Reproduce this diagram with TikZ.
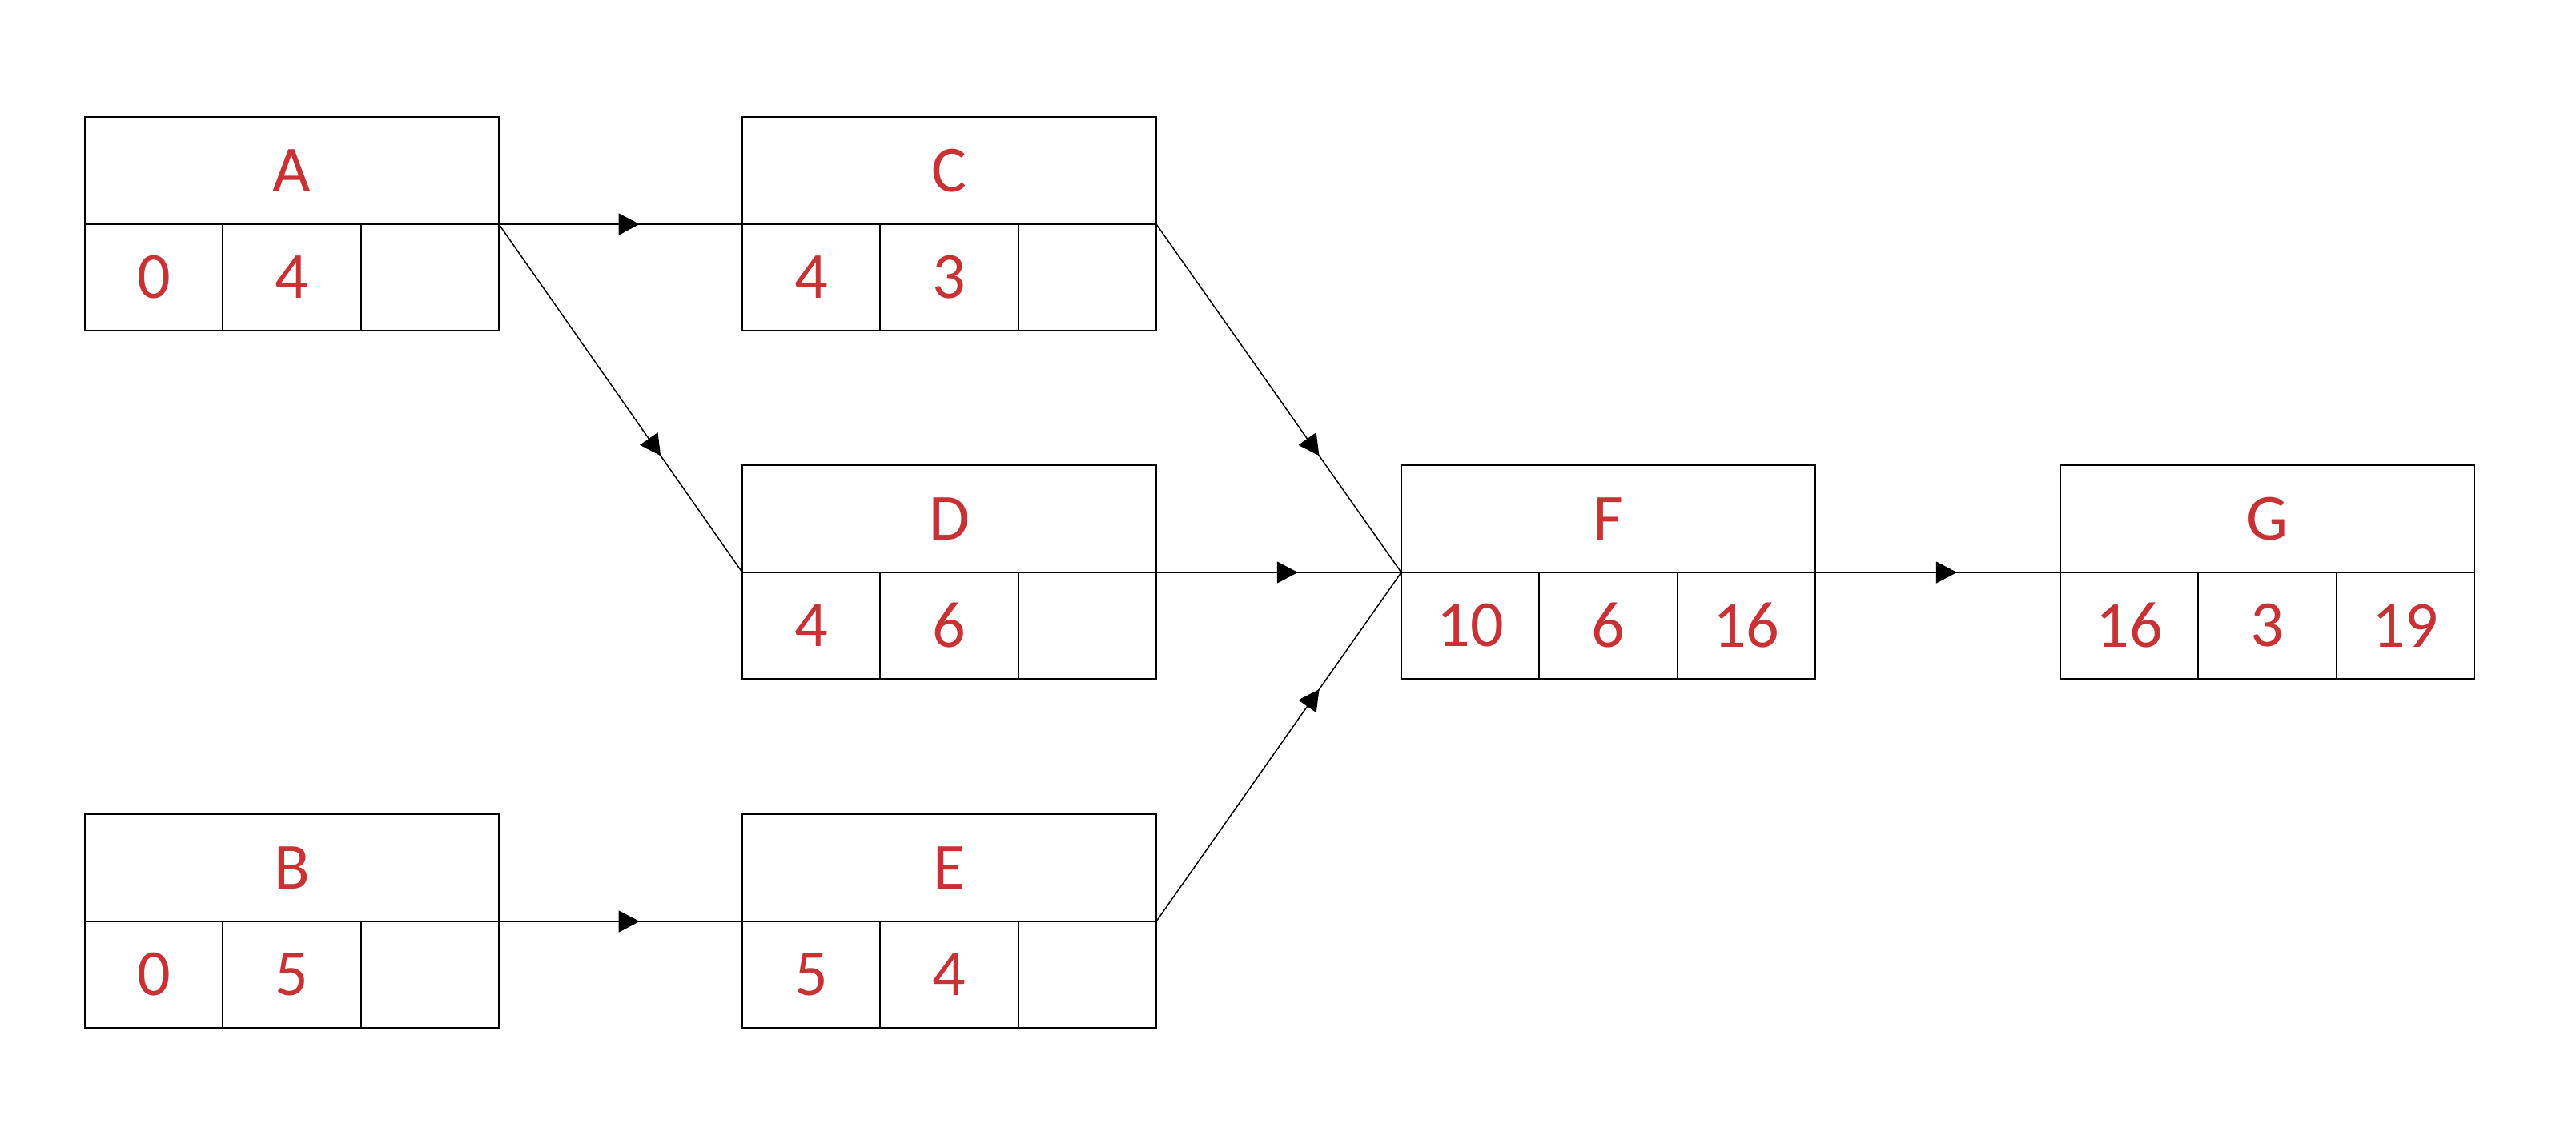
\documentclass[tikz,border=0pt]{standalone}
\usepackage{fontspec}
\setmainfont{Carlito}
\usetikzlibrary{positioning,arrows.meta,decorations.markings}

\definecolor{labelred}{RGB}{200,50,52}

\tikzset{
  head/.style={draw, line width=0.57pt, outer sep=0pt, inner sep=0pt,
    minimum width=5.17cm, minimum height=1.34cm, text=labelred,
    font=\fontsize{23.4}{28}\selectfont},
  cell/.style={draw, line width=0.57pt, outer sep=0pt, inner sep=0pt,
    minimum width=5.17cm/3, minimum height=1.33cm, text=labelred,
    font=\fontsize{23.4}{28}\selectfont},
  link/.style={line width=0.43pt, postaction={decorate},
    decoration={markings, mark=at position #1 with
      {\arrow{Triangle[length=0.26cm, width=0.27cm]}}}},
  link/.default=0.578
}

\begin{document}
\begin{tikzpicture}

  \useasboundingbox (0,0) rectangle (32.17,-14.34);

  \node (A) [head] at (3.645,-2.13) {A};
  \node (C) [head, right=3.04cm of A] {C};
  \node (D) [head, below=3.01cm of C] {D};
  \node (B) [head, below=7.37cm of A] {B};
  \node (E) [head, right=3.04cm of B] {E};
  \node (F) [head, right=3.06cm of D] {F};
  \node (G) [head, right=3.06cm of F] {G};

  \node (A1) [cell, below right=0pt and 0pt of A.south west] {0};
  \node (A2) [cell, right=0pt of A1] {4};
  \node (A3) [cell, right=0pt of A2] {};
  \node (B1) [cell, below right=0pt and 0pt of B.south west] {0};
  \node (B2) [cell, right=0pt of B1] {5};
  \node (B3) [cell, right=0pt of B2] {};
  \node (C1) [cell, below right=0pt and 0pt of C.south west] {4};
  \node (C2) [cell, right=0pt of C1] {3};
  \node (C3) [cell, right=0pt of C2] {};
  \node (D1) [cell, below right=0pt and 0pt of D.south west] {4};
  \node (D2) [cell, right=0pt of D1] {6};
  \node (D3) [cell, right=0pt of D2] {};
  \node (E1) [cell, below right=0pt and 0pt of E.south west] {5};
  \node (E2) [cell, right=0pt of E1] {4};
  \node (E3) [cell, right=0pt of E2] {};
  \node (F1) [cell, below right=0pt and 0pt of F.south west] {10};
  \node (F2) [cell, right=0pt of F1] {6};
  \node (F3) [cell, right=0pt of F2] {16};
  \node (G1) [cell, below right=0pt and 0pt of G.south west] {16};
  \node (G2) [cell, right=0pt of G1] {3};
  \node (G3) [cell, right=0pt of G2] {19};

  \draw [link] (A.south east) -- (C.south west);
  \draw [link=0.665] (A.south east) -- (D.south west);
  \draw [link] (B.south east) -- (E.south west);
  \draw [link=0.665] (C.south east) -- (F.south west);
  \draw [link] (D.south east) -- (F.south west);
  \draw [link=0.665] (E.south east) -- (F.south west);
  \draw [link] (F.south east) -- (G.south west);

\end{tikzpicture}
\end{document}
